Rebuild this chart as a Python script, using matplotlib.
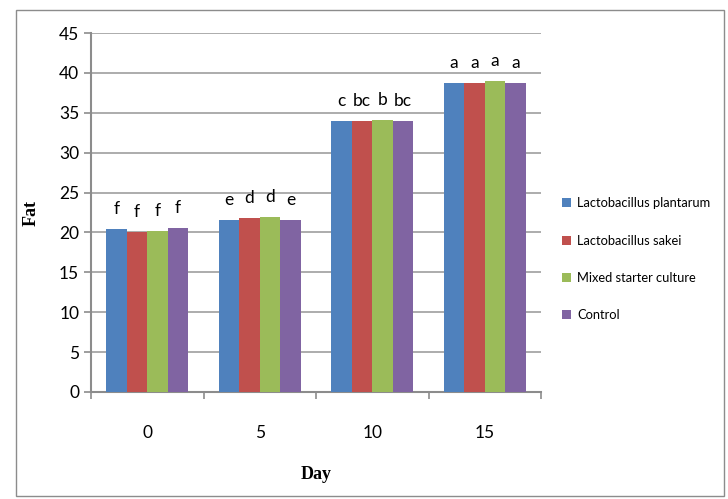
import matplotlib.pyplot as plt
from matplotlib.patches import Rectangle
import numpy as np

days = ["0", "5", "10", "15"]
series = ["Lactobacillus plantarum", "Lactobacillus sakei",
          "Mixed starter culture", "Control"]
plantarum = [20.4, 21.6, 34.0, 38.7]
sakei = [20.1, 21.8, 34.0, 38.7]
mixed = [20.2, 21.9, 34.1, 39.0]
control = [20.6, 21.6, 34.0, 38.7]
letters = [
    ["f", "e", "c", "a"],
    ["f", "d", "bc", "a"],
    ["f", "d", "b", "a"],
    ["f", "e", "bc", "a"],
]
colors = ["#4F81BD", "#C0504D", "#9BBB59", "#8064A2"]

plt.rcParams['font.family'] = ['Lato', 'DejaVu Sans']

fig = plt.figure(figsize=(7.28, 4.99), dpi=100)
ax = fig.add_axes([91 / 728, 1 - 392 / 499, 450 / 728, 359 / 499])

# outer chart border
fig.patches.append(Rectangle((16 / 728, 3 / 499), 708 / 728, 486 / 499,
                             transform=fig.transFigure, fill=False,
                             edgecolor="#8c8c8c", linewidth=1.0))

x = np.arange(len(days))
width = 0.182
values = [plantarum, sakei, mixed, control]
for i, (vals, col, name) in enumerate(zip(values, colors, series)):
    pos = x + (i - 1.5) * width
    ax.bar(pos, vals, width, color=col, label=name, zorder=3)
    for p, v, t in zip(pos, vals, letters[i]):
        ax.text(p, v + 1.5, t, ha="center", va="bottom", fontsize=12.5)

ax.set_xlim(-0.5, 3.5)
ax.set_ylim(0, 45)
ax.set_yticks(range(0, 46, 5))
ax.set_xticks(x)
ax.set_xticklabels(days)
ax.set_xticks(np.arange(-0.5, 4, 1), minor=True)
ax.tick_params(axis="x", which="major", length=0, pad=24, labelsize=12.5)
ax.tick_params(axis="x", which="minor", length=5, color="#8c8c8c", width=1.2)
ax.tick_params(axis="y", length=5, color="#8c8c8c", width=1.2, labelsize=12.5)
ax.yaxis.grid(True, color="#a6a6a6", linewidth=1.3, zorder=0)
for s in ["top", "right"]:
    ax.spines[s].set_visible(False)
for s in ["left", "bottom"]:
    ax.spines[s].set_color("#8c8c8c")
    ax.spines[s].set_linewidth(1.5)

ax.set_xlabel("Day", family="Liberation Serif", fontweight="bold",
              fontsize=13, labelpad=18)
ax.set_ylabel("Fat", family="Liberation Serif", fontweight="bold",
              fontsize=13, labelpad=14)

ax.legend(loc="center left", bbox_to_anchor=(1.02, 0.37), frameon=False,
          fontsize=9.3, handlelength=0.7, handleheight=0.7,
          handletextpad=0.5, labelspacing=1.95)

fig.savefig("out.png", dpi=100)
